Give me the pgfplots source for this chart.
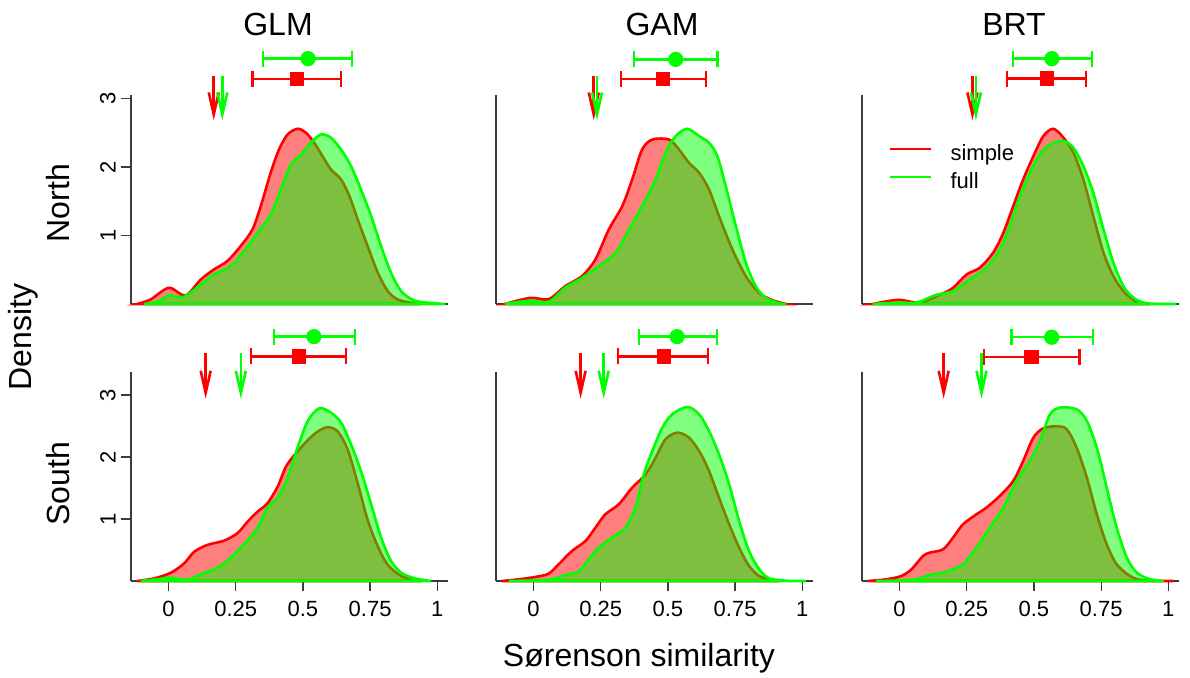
\documentclass[border=0pt]{standalone}
\usepackage{fontspec}
\setmainfont{Liberation Sans}
\usepackage{pgfplots}
\pgfplotsset{compat=1.18}
\usetikzlibrary{arrows.meta}

\definecolor{rred}{RGB}{255,0,0}
\definecolor{rgreen}{RGB}{0,255,0}
\definecolor{axgray}{RGB}{60,60,60}

\pgfplotsset{
  panel/.style={
    scale only axis, width=158.5pt, height=104.5pt,
    xmin=-0.14, xmax=1.04, ymin=0,
    axis lines*=left,
    axis line style={axgray, line width=0.6pt},
    major tick style={axgray, line width=0.6pt},
    major tick length=5pt, tick align=outside,
    clip=false, xtick=\empty, ytick=\empty,
    ticklabel style={font=\fontsize{11}{13}\selectfont, inner sep=0pt},
  },
  toprow/.style={ymax=3.05},
  botrow/.style={ymax=3.37, xtick={0,0.25,0.5,0.75,1},
    xticklabels={0,0.25,0.5,0.75,1}, xticklabel shift=5pt},
  leftcol/.style={ytick={1,2,3}, yticklabels={1,2,3},
    yticklabel style={rotate=90, anchor=south}, yticklabel shift=2.5pt},
  simple/.style={draw=rred, fill=rred, fill opacity=0.5, line width=1.3pt,
    smooth, tension=0.5},
  full/.style={draw=rgreen, fill=rgreen, fill opacity=0.5, line width=1.3pt,
    smooth, tension=0.5},
  sbar/.style={rred, line width=1.2pt, mark=square*, mark size=3pt,
    error bars/.cd, x dir=both, x explicit, error mark=|,
    error bar style={line width=1.2pt, rred},
    error mark options={mark size=4pt, line width=1.2pt, rred}},
  fbar/.style={rgreen, line width=1.2pt, mark=*, mark size=3.2pt,
    error bars/.cd, x dir=both, x explicit, error mark=|,
    error bar style={line width=1.2pt, rgreen},
    error mark options={mark size=4pt, line width=1.2pt, rgreen}},
  sarr/.style={rred, line width=1.3pt, -{Straight Barb[length=11pt,width=5pt]}},
  farr/.style={rgreen, line width=1.3pt, -{Straight Barb[length=11pt,width=5pt]}},
}

\begin{document}
\begin{tikzpicture}
\useasboundingbox (0,0) rectangle (595pt,339pt);

% ---- North / GLM
\begin{axis}[panel, toprow, leftcol, at={(65.5pt,187pt)}, anchor=south west]
\addplot[simple] coordinates {(-0.117,0) (-0.067,0.066) (0.001,0.236) (0.063,0.124)
 (0.120,0.358) (0.169,0.504) (0.218,0.625) (0.268,0.844) (0.312,1.088) (0.343,1.428)
 (0.380,1.915) (0.411,2.255) (0.443,2.474) (0.480,2.557) (0.511,2.50) (0.542,2.353)
 (0.573,2.158) (0.604,1.964) (0.642,1.818) (0.673,1.574) (0.704,1.234) (0.741,0.844)
 (0.779,0.455) (0.816,0.187) (0.853,0.066) (0.903,0.017) (0.94,0)} \closedcycle;
\addplot[full] coordinates {(-0.092,0) (-0.042,0.03) (0.0,0.124) (0.057,0.105)
 (0.120,0.285) (0.169,0.431) (0.231,0.552) (0.281,0.771) (0.331,1.038) (0.380,1.306)
 (0.418,1.672) (0.455,2.037) (0.493,2.183) (0.530,2.353) (0.567,2.474) (0.604,2.426)
 (0.642,2.255) (0.679,2.012) (0.716,1.672) (0.754,1.282) (0.791,0.844) (0.828,0.455)
 (0.866,0.187) (0.915,0.05) (0.99,0.01) (1.03,0)} \closedcycle;
\addplot[sarr] coordinates {(0.168,3.32) (0.168,2.68)};
\addplot[farr] coordinates {(0.200,3.32) (0.200,2.68)};
\addplot[sbar] coordinates {(0.478,3.28) += (0.164,0) -= (0.165,0)};
\addplot[fbar] coordinates {(0.519,3.58) += (0.164,0) -= (0.168,0)};
\end{axis}

% ---- North / GAM
\begin{axis}[panel, toprow, at={(248pt,187pt)}, anchor=south west]
\addplot[simple] coordinates {(-0.106,0) (-0.012,0.09) (0.056,0.07) (0.118,0.26)
 (0.180,0.406) (0.230,0.650) (0.280,1.088) (0.330,1.428) (0.367,1.818) (0.404,2.255)
 (0.442,2.40) (0.504,2.40) (0.541,2.255) (0.578,2.061) (0.616,1.915) (0.653,1.672)
 (0.690,1.282) (0.740,0.796) (0.790,0.406) (0.839,0.163) (0.889,0.055) (0.939,0)} \closedcycle;
\addplot[full] coordinates {(-0.106,0) (-0.012,0.05) (0.056,0.03) (0.118,0.24)
 (0.180,0.38) (0.242,0.552) (0.305,0.747) (0.355,1.088) (0.404,1.428) (0.454,1.818)
 (0.491,2.207) (0.529,2.45) (0.572,2.557) (0.616,2.45) (0.653,2.353) (0.684,2.158)
 (0.715,1.72) (0.753,1.136) (0.790,0.601) (0.827,0.26) (0.864,0.09) (0.914,0.01) (0.939,0)} \closedcycle;
\addplot[sarr] coordinates {(0.224,3.32) (0.224,2.68)};
\addplot[farr] coordinates {(0.236,3.32) (0.236,2.68)};
\addplot[sbar] coordinates {(0.481,3.28) += (0.160,0) -= (0.155,0)};
\addplot[fbar] coordinates {(0.529,3.57) += (0.155,0) -= (0.156,0)};
\end{axis}

% ---- North / BRT
\begin{axis}[panel, toprow, at={(431pt,187pt)}, anchor=south west,
  legend style={at={(0.085,0.765)}, anchor=north west, draw=none, fill=none,
    inner sep=0pt, outer sep=0pt, row sep=3.5pt,
    font=\fontsize{11}{13}\selectfont,
    nodes={inner sep=0pt, text height=8pt, text depth=2.5pt},
    /tikz/every odd column/.append style={column sep=9pt}},
  legend cell align=left,
  legend image code/.code={\draw[#1] (0pt,2.9pt) -- (20.5pt,2.9pt);}]
\addlegendimage{rred, line width=1.3pt}
\addlegendentry{simple}
\addlegendimage{rgreen, line width=1.3pt}
\addlegendentry{full}
\addplot[simple] coordinates {(-0.1,0) (-0.006,0.06) (0.075,0.02) (0.149,0.134)
 (0.199,0.236) (0.249,0.43) (0.299,0.53) (0.348,0.747) (0.386,1.038) (0.423,1.428)
 (0.460,1.818) (0.498,2.158) (0.535,2.45) (0.572,2.557) (0.610,2.426) (0.647,2.207)
 (0.684,1.818) (0.721,1.282) (0.759,0.747) (0.796,0.406) (0.833,0.187) (0.883,0.03) (0.933,0)} \closedcycle;
\addplot[full] coordinates {(-0.1,0) (0.0,0.02) (0.062,0.02) (0.137,0.134)
 (0.199,0.187) (0.261,0.358) (0.323,0.53) (0.373,0.796) (0.410,1.136) (0.448,1.574)
 (0.485,1.915) (0.522,2.183) (0.560,2.33) (0.610,2.38) (0.647,2.28) (0.684,2.012)
 (0.721,1.623) (0.759,1.088) (0.796,0.601) (0.833,0.26) (0.871,0.09) (0.92,0.01) (1.03,0)} \closedcycle;
\addplot[sarr] coordinates {(0.271,3.32) (0.271,2.68)};
\addplot[farr] coordinates {(0.284,3.32) (0.284,2.68)};
\addplot[sbar] coordinates {(0.548,3.29) += (0.146,0) -= (0.149,0)};
\addplot[fbar] coordinates {(0.567,3.58) += (0.149,0) -= (0.145,0)};
\end{axis}

% ---- South / GLM
\begin{axis}[panel, botrow, leftcol, at={(65.5pt,48.5pt)}, anchor=south west]
\addplot[simple] coordinates {(-0.117,0) (-0.055,0.04) (0.007,0.13) (0.057,0.28)
 (0.095,0.47) (0.144,0.581) (0.207,0.651) (0.256,0.77) (0.294,0.957) (0.331,1.118)
 (0.368,1.253) (0.406,1.522) (0.437,1.845) (0.474,2.06) (0.518,2.27) (0.555,2.409)
 (0.592,2.48) (0.630,2.409) (0.667,2.113) (0.704,1.575) (0.741,0.984) (0.779,0.554)
 (0.816,0.258) (0.866,0.08) (0.915,0.01) (0.94,0)} \closedcycle;
\addplot[full] coordinates {(-0.104,0) (-0.042,0.027) (0.007,0.054) (0.07,0.02)
 (0.119,0.108) (0.182,0.215) (0.231,0.376) (0.281,0.591) (0.331,0.86) (0.368,1.183)
 (0.406,1.344) (0.443,1.667) (0.480,2.151) (0.518,2.581) (0.561,2.785) (0.604,2.715)
 (0.642,2.554) (0.679,2.204) (0.716,1.774) (0.754,1.237) (0.791,0.70) (0.828,0.323)
 (0.866,0.134) (0.915,0.043) (0.977,0)} \closedcycle;
\addplot[sarr] coordinates {(0.138,3.67) (0.138,2.94)};
\addplot[farr] coordinates {(0.269,3.67) (0.269,2.94)};
\addplot[sbar] coordinates {(0.485,3.62) += (0.175,0) -= (0.179,0)};
\addplot[fbar] coordinates {(0.541,3.94) += (0.153,0) -= (0.149,0)};
\end{axis}

% ---- South / GAM
\begin{axis}[panel, botrow, at={(248pt,48.5pt)}, anchor=south west]
\addplot[simple] coordinates {(-0.118,0) (-0.056,0.027) (0.006,0.065) (0.056,0.118)
 (0.093,0.269) (0.143,0.484) (0.193,0.645) (0.230,0.86) (0.267,1.075) (0.317,1.237)
 (0.367,1.505) (0.417,1.72) (0.454,1.989) (0.491,2.285) (0.535,2.392) (0.578,2.312)
 (0.616,2.097) (0.653,1.774) (0.690,1.344) (0.728,0.914) (0.765,0.538) (0.802,0.242)
 (0.840,0.08) (0.889,0.01) (0.914,0)} \closedcycle;
\addplot[full] coordinates {(-0.093,0) (0.006,0.01) (0.068,0.027) (0.118,0.097)
 (0.168,0.151) (0.205,0.35) (0.242,0.538) (0.292,0.699) (0.342,0.86) (0.379,1.183)
 (0.410,1.72) (0.442,2.097) (0.479,2.473) (0.516,2.688) (0.572,2.806) (0.616,2.688)
 (0.653,2.419) (0.690,2.043) (0.728,1.559) (0.765,0.968) (0.802,0.484) (0.840,0.188)
 (0.877,0.043) (0.939,0.005) (1.014,0)} \closedcycle;
\addplot[sarr] coordinates {(0.175,3.67) (0.175,2.94)};
\addplot[farr] coordinates {(0.261,3.67) (0.261,2.94)};
\addplot[sbar] coordinates {(0.485,3.62) += (0.164,0) -= (0.172,0)};
\addplot[fbar] coordinates {(0.534,3.94) += (0.149,0) -= (0.142,0)};
\end{axis}

% ---- South / BRT
\begin{axis}[panel, botrow, at={(431pt,48.5pt)}, anchor=south west]
\addplot[simple] coordinates {(-0.118,0) (-0.05,0.027) (0.006,0.08) (0.044,0.188)
 (0.087,0.403) (0.112,0.457) (0.162,0.511) (0.199,0.699) (0.236,0.914) (0.286,1.075)
 (0.323,1.183) (0.373,1.371) (0.423,1.613) (0.460,1.935) (0.498,2.312) (0.535,2.462)
 (0.585,2.495) (0.622,2.446) (0.659,2.15) (0.697,1.667) (0.734,1.075) (0.771,0.591)
 (0.808,0.269) (0.858,0.08) (0.908,0.01) (1.02,0)} \closedcycle;
\addplot[full] coordinates {(-0.087,0) (0.012,0.01) (0.062,0.027) (0.112,0.097)
 (0.174,0.151) (0.236,0.269) (0.286,0.538) (0.336,0.86) (0.386,1.183) (0.435,1.613)
 (0.485,1.935) (0.522,2.258) (0.560,2.688) (0.597,2.796) (0.659,2.769) (0.697,2.581)
 (0.734,2.15) (0.771,1.505) (0.808,0.86) (0.846,0.376) (0.883,0.134) (0.933,0.027) (0.983,0)} \closedcycle;
\addplot[sarr] coordinates {(0.164,3.67) (0.164,2.94)};
\addplot[farr] coordinates {(0.305,3.67) (0.305,2.94)};
\addplot[sbar] coordinates {(0.491,3.61) += (0.178,0) -= (0.176,0)};
\addplot[fbar] coordinates {(0.566,3.93) += (0.153,0) -= (0.149,0)};
\end{axis}

% titles and labels
\begin{scope}[font=\fontsize{16}{19}\selectfont]
\node[anchor=base] at (139pt,321pt) {GLM};
\node[anchor=base] at (331pt,321pt) {GAM};
\node[anchor=base] at (507pt,321pt) {BRT};
\node[anchor=base, rotate=90] at (35pt,237.5pt) {North};
\node[anchor=base, rotate=90] at (35pt,97pt) {South};
\node[anchor=base, rotate=90] at (16pt,170.5pt) {Density};
\node[anchor=base] at (319.5pt,5.5pt) {Sørenson similarity};
\end{scope}
\end{tikzpicture}
\end{document}
